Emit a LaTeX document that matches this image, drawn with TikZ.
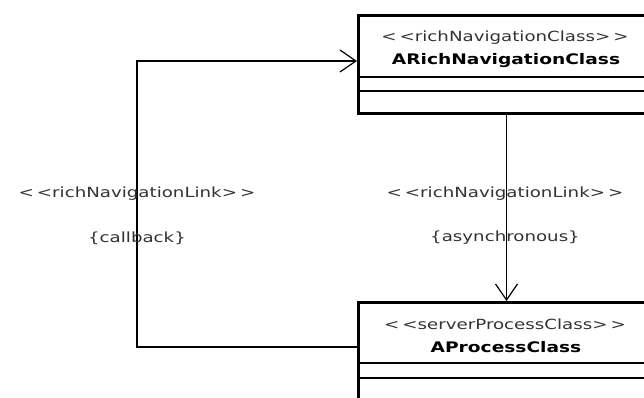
\documentclass[tikz,border=0pt]{standalone}
\usepackage{fontspec}
\setmainfont{DejaVu Sans}
\usetikzlibrary{arrows.meta,calc}
\newcommand{\wide}[1]{\scalebox{1.3}[1]{#1}}
\newcommand{\wideb}[1]{\scalebox{1.33}[1.04]{#1}}
\begin{document}
\begin{tikzpicture}[x=1pt,y=-1pt,
  classbox/.style={draw=black,line width=3pt,fill=white,anchor=north west,minimum width=296pt,inner sep=0pt},
  stereo/.style={font=\fontsize{14}{16}\selectfont,text=black!80,inner sep=0pt},
  cname/.style={font=\bfseries\fontsize{14}{16}\selectfont,inner sep=0pt},
  lbl/.style={font=\fontsize{14}{16}\selectfont,text=black!80,inner sep=0pt},
  comp/.style={line width=1.4pt},
  link/.style={line width=1.2pt,-{Straight Barb[length=16pt,width=22pt,line width=1.2pt]}}]
\useasboundingbox (0,0) rectangle (644,397);
\clip (0,0) rectangle (644,397);
\fill[white] (0,0) rectangle (644,397);
% top class
\node[classbox,minimum height=98pt] (top) at (357,14) {};
\node[stereo] (topst) at (505,38) {\wide{<\,<richNavigationClass>\,>}};
\node[cname] (topnm) at (506,61) {\wideb{ARichNavigationClass}};
\draw[comp] ($(top.north west)+(0,63)$) -- ($(top.north east)+(0,63)$);
\draw[comp] ($(top.north west)+(0,77)$) -- ($(top.north east)+(0,77)$);
% bottom class
\node[classbox,minimum height=110pt] (proc) at (357,301) {};
\node[stereo] (procst) at (505,324) {\wide{<\,<serverProcessClass>\,>}};
\node[cname] (procnm) at (506,347) {\wideb{AProcessClass}};
\draw[comp] ($(proc.north west)+(0,62)$) -- ($(proc.north east)+(0,62)$);
\draw[comp] ($(proc.north west)+(0,77)$) -- ($(proc.north east)+(0,77)$);
% connectors
\coordinate (cbstart) at ($(proc.north west)+(0,46)$);
\coordinate (cbbot) at (137,347);
\coordinate (cbtop) at (137,61);
\coordinate (cbend) at ($(top.north west)+(0,47)$);
\draw[link] (cbstart) -- (cbbot) -- (cbtop) -- (cbend);
\draw[link] (top.south) -- (proc.north);
% labels
\node[lbl] (l1a) at (137,194) {\wide{<\,<richNavigationLink>\,>}};
\node[lbl] (l1b) at (137,238) {\wide{\{callback\}}};
\node[lbl] (l2a) at (505,194) {\wide{<\,<richNavigationLink>\,>}};
\node[lbl] (l2b) at (505,238) {\wide{\{asynchronous\}}};
\end{tikzpicture}
\end{document}
